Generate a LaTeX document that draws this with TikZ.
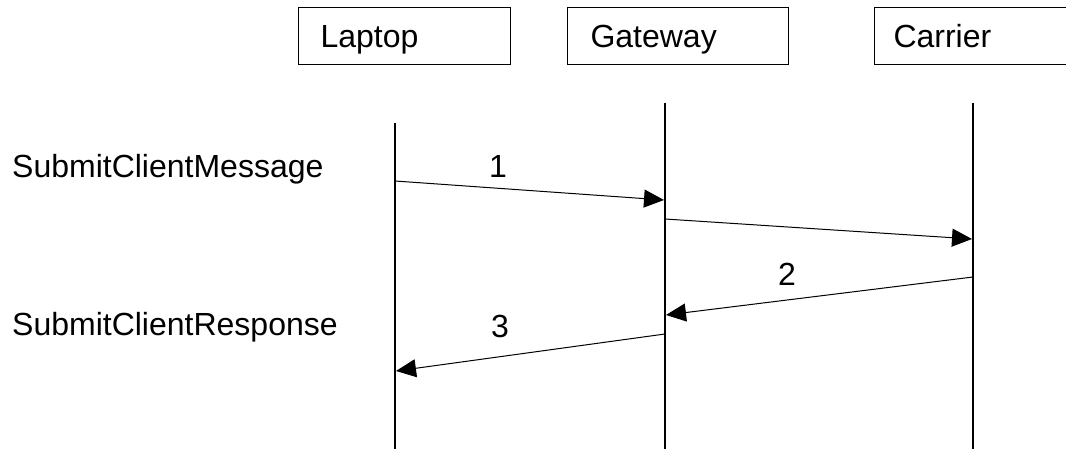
\documentclass[tikz,border=0pt]{standalone}
\usepackage{fontspec}
\setmainfont{Liberation Sans}
\usetikzlibrary{arrows.meta}
\begin{document}
\begin{tikzpicture}[x=1pt,y=-1pt,
  every node/.style={font=\fontsize{32}{38}\selectfont},
  box/.style={draw,line width=1pt,minimum height=57pt,text height=22pt,text depth=0pt,align=left,anchor=west,inner ysep=0pt},
  life/.style={line width=1.1pt},
  msg/.style={line width=1pt,-{Triangle[length=20pt,width=18pt]}},
  txt/.style={inner sep=0pt,anchor=base}]
\useasboundingbox (0,0) rectangle (1066,449);
\fill[white] (0,0) rectangle (1066,449);
% participant boxes
\node (laptop) [box,inner xsep=22pt,text width=168pt] at (298,36.5) {Laptop};
\node (gateway) [box,inner xsep=23pt,text width=175pt] at (567,36.5) {Gateway};
\node (carrier) [box,inner xsep=19pt,text width=300pt] at (874,36.5) {Carrier};
% lifelines
\coordinate (lt) at (395,123); \coordinate (lb) at (395,449);
\coordinate (gt) at (665,103); \coordinate (gb) at (665,449);
\coordinate (ct) at (973,103); \coordinate (cb) at (973,449);
\draw[life] (lt) -- (lb);
\draw[life] (gt) -- (gb);
\draw[life] (ct) -- (cb);
% message endpoints
\coordinate (m1s) at (395,181); \coordinate (m1e) at (664,200);
\coordinate (m2s) at (665,219); \coordinate (m2e) at (972,239);
\coordinate (m3s) at (973,277); \coordinate (m3e) at (666,315);
\coordinate (m4s) at (665,334); \coordinate (m4e) at (396,371);
\draw[msg] (m1s) -- (m1e);
\draw[msg] (m2s) -- (m2e);
\draw[msg] (m3s) -- (m3e);
\draw[msg] (m4s) -- (m4e);
% labels
\node (l1) [txt] at (498,178) {1};
\node (l2) [txt] at (787,285) {2};
\node (l3) [txt] at (500,337) {3};
\node (sm) [txt,anchor=base west] at (12,178) {SubmitClientMessage};
\node (sr) [txt,anchor=base west] at (12,335) {SubmitClientResponse};
\end{tikzpicture}
\end{document}
